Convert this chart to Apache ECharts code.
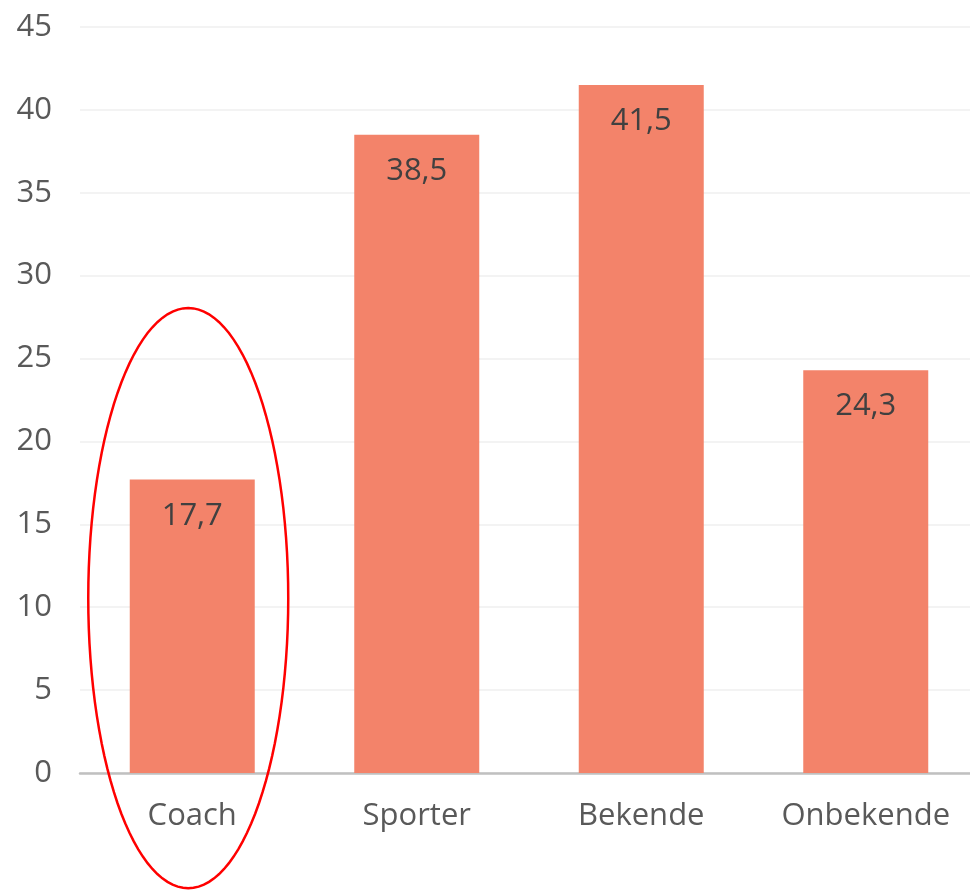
<!DOCTYPE html>
<html>
<head>
<meta charset="utf-8">
<script src="https://cdn.jsdelivr.net/npm/echarts@6/dist/echarts.min.js"></script>
<style>
  html, body { margin: 0; padding: 0; background: #fff; overflow: hidden; }
  #chart { width: 980px; height: 890px; }
</style>
</head>
<body>
<div id="chart"></div>
<script>
var categories = ['Coach', 'Sporter', 'Bekende', 'Onbekende'];
var values = [17.7, 38.5, 41.5, 24.3];
var yTicks = [0, 5, 10, 15, 20, 25, 30, 35, 40, 45];
// highlight ring around the first category, in data units
var highlight = { category: 0, centerValue: 10.55, halfHeight: 17.5, halfWidth: 100 };

var chart = echarts.init(document.getElementById('chart'));
var font = '"Open Sans", sans-serif';

chart.setOption({
  animation: false,
  grid: { left: 80, top: 27, width: 898, bottom: 117, containLabel: false },
  xAxis: {
    type: 'category',
    data: categories,
    axisTick: { show: false },
    axisLine: { lineStyle: { color: '#c0c0c0', width: 2.5 } },
    axisLabel: { fontSize: 31, color: '#595959', fontFamily: font, margin: 28 }
  },
  yAxis: {
    type: 'value',
    min: yTicks[0],
    max: yTicks[yTicks.length - 1],
    interval: 5,
    axisLine: { show: false },
    axisTick: { show: false },
    splitLine: { lineStyle: { color: '#efefef', width: 1.5 } },
    axisLabel: { fontSize: 31, color: '#595959', fontFamily: font, margin: 28 }
  },
  series: [{
    type: 'bar',
    data: values,
    barWidth: 125,
    itemStyle: { color: '#f3836a' },
    label: {
      show: true,
      position: 'insideTop',
      distance: 21,
      fontSize: 31,
      color: '#404040',
      fontFamily: font,
      formatter: function (p) { return p.value.toFixed(1).replace('.', ','); }
    }
  }]
});

var c = chart.convertToPixel({ xAxisIndex: 0, yAxisIndex: 0 }, [highlight.category, highlight.centerValue]);
var t = chart.convertToPixel({ xAxisIndex: 0, yAxisIndex: 0 }, [highlight.category, highlight.centerValue + highlight.halfHeight]);
var ry = c[1] - t[1];
var pts = [];
for (var i = 0; i <= 120; i++) {
  var a = i / 120 * Math.PI * 2;
  pts.push([c[0] - 4 + highlight.halfWidth * Math.cos(a), c[1] + ry * Math.sin(a)]);
}
chart.setOption({
  graphic: [{
    type: 'polyline',
    shape: { points: pts },
    style: { fill: null, stroke: '#ff0000', lineWidth: 2.5 },
    z: 100
  }]
});
</script>
</body>
</html>
